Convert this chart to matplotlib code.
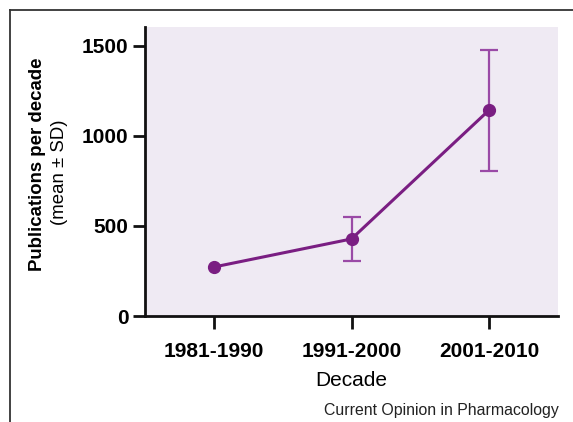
import matplotlib
matplotlib.use("Agg")
import matplotlib.pyplot as plt
from matplotlib.lines import Line2D

plt.rcParams['font.family'] = ['Liberation Sans', 'DejaVu Sans']

decades = ["1981-1990", "1991-2000", "2001-2010"]
means = [272, 428, 1144]
sds = [0, 120, 336]
yticks = [0, 500, 1000, 1500]

W, H = 573, 422
fig = plt.figure(figsize=(W / 100, H / 100), dpi=100)

ax = fig.add_axes([145 / W, (H - 316) / H, (558 - 145) / W, (316 - 27) / H])
ax.set_facecolor('#EFEAF3')

x = list(range(len(decades)))
ex = [xi for xi, s in zip(x, sds) if s > 0]
em = [m for m, s in zip(means, sds) if s > 0]
es = [s for s in sds if s > 0]
ax.errorbar(ex, em, yerr=es, fmt='none', ecolor='#9A4AA6', elinewidth=1.6,
            capsize=6.5, capthick=1.6, zorder=2)
ax.plot(x, means, color='#7A1E82', lw=2.2, marker='o', markersize=8.5, zorder=3)

ax.set_xlim(-0.5, 2.5)
ax.set_ylim(0, 1605)
ax.set_xticks(x)
ax.set_xticklabels(decades, fontsize=15, fontweight='bold')
ax.set_yticks(yticks)
ax.set_yticklabels([str(v) for v in yticks], fontsize=15, fontweight='bold')

for s in ['top', 'right']:
    ax.spines[s].set_visible(False)
for s in ['left', 'bottom']:
    ax.spines[s].set_linewidth(2)
    ax.spines[s].set_color('#111111')
ax.tick_params(axis='y', length=9, width=2, pad=3, color='#111111')
ax.tick_params(axis='x', length=9, width=2, pad=10, color='#111111')

ax.set_xlabel('Decade', fontsize=15, labelpad=7)

fig.text(38 / W, 1 - 164 / H, 'Publications per decade', rotation=90,
         fontsize=13.4, fontweight='bold', ha='center', va='center')
fig.text(60 / W, 1 - 172 / H, '(mean ± SD)', rotation=90,
         fontsize=13.4, ha='center', va='center')

fig.text(559 / W, 1 - 410 / H, 'Current Opinion in Pharmacology', fontsize=11.4,
         ha='right', va='center', color='#222222')

# outer frame (top and left edges)
fig.add_artist(Line2D([10 / W, 1], [1 - 10 / H, 1 - 10 / H], transform=fig.transFigure,
                      color='#333333', lw=1.3))
fig.add_artist(Line2D([10 / W, 10 / W], [0, 1 - 10 / H], transform=fig.transFigure,
                      color='#333333', lw=1.3))

fig.savefig('out.png', dpi=100)
